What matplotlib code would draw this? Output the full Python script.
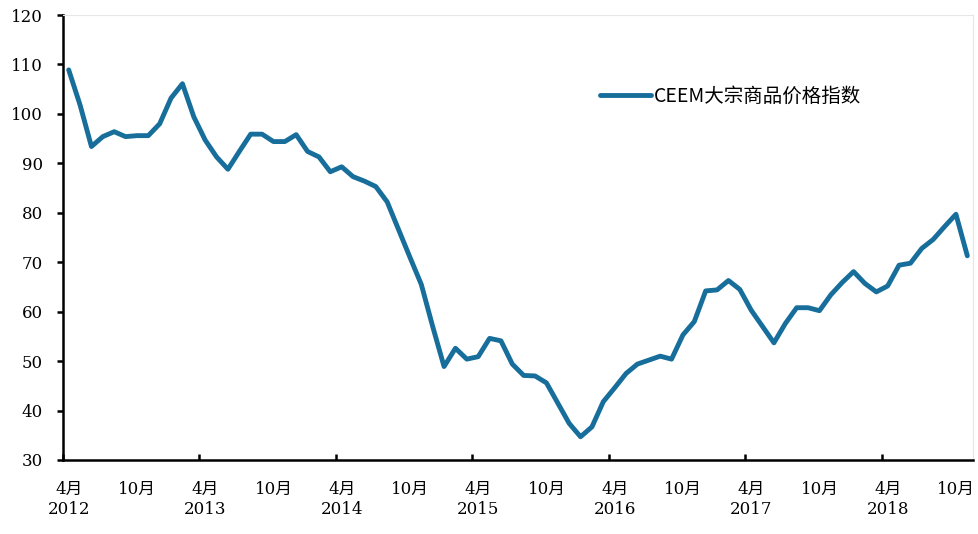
import matplotlib
matplotlib.use("Agg")
import matplotlib.pyplot as plt
import numpy as np

plt.rcParams['font.family'] = ['DejaVu Serif', 'Noto Sans CJK SC']

series_name = "CEEM大宗商品价格指数"
values = [
    108.9, 101.8, 93.4, 95.4, 96.4, 95.4, 95.6, 95.6, 98.0,          # 2012 Apr-Dec
    103.2, 106.1, 99.4, 94.7, 91.3, 88.8, 92.4, 95.9, 95.9, 94.4, 94.4, 95.8,  # 2013
    92.4, 91.3, 88.3, 89.3, 87.3, 86.4, 85.3, 82.2, 76.6, 71.0, 65.5, 57.0,    # 2014
    48.9, 52.6, 50.4, 50.9, 54.6, 54.1, 49.4, 47.1, 47.0, 45.6, 41.5, 37.4,    # 2015
    34.7, 36.7, 41.8, 44.6, 47.5, 49.4, 50.2, 51.0, 50.4, 55.3, 58.0, 64.2,    # 2016
    64.4, 66.3, 64.5, 60.3, 57.0, 53.7, 57.6, 60.8, 60.8, 60.2, 63.4, 65.9,    # 2017
    68.1, 65.7, 64.0, 65.2, 69.4, 69.8, 72.8, 74.6, 77.2, 79.7, 71.3,          # 2018 Jan-Nov
]
tick_labels = ["4月\n2012", "10月", "4月\n2013", "10月", "4月\n2014", "10月",
               "4月\n2015", "10月", "4月\n2016", "10月", "4月\n2017", "10月",
               "4月\n2018", "10月"]
y_ticks = [30, 40, 50, 60, 70, 80, 90, 100, 110, 120]

line_color = '#176E9B'

fig = plt.figure(figsize=(9.79, 5.34), dpi=100)
ax = fig.add_axes([63/979, 1-460/534, (973-63)/979, (460-15)/534])

x = np.arange(len(values))
ax.plot(x, values, color=line_color, lw=3.5, solid_joinstyle='round',
        solid_capstyle='round', label=series_name)

ax.set_xlim(-0.5, len(values) - 0.5)
ax.set_ylim(30, 120)
ax.set_yticks(y_ticks)
ax.set_yticklabels([str(v) for v in y_ticks], fontsize=12)

# major ticks (year boundaries) without labels, pointing inward
ax.set_xticks(np.arange(-0.5, len(values), 12))
ax.set_xticklabels([])
ax.tick_params(axis='x', which='major', direction='in', length=4.5, width=1.8)
# minor ticks carry the labels
ax.set_xticks(np.arange(0, 6 * len(tick_labels), 6), minor=True)
ax.set_xticklabels(tick_labels, minor=True, fontsize=12, linespacing=1.25)
ax.tick_params(axis='x', which='minor', length=0, pad=15)
ax.tick_params(axis='y', direction='out', length=4.5, width=1.8, pad=10)

for s in ['left', 'bottom']:
    ax.spines[s].set_linewidth(1.8)
    ax.spines[s].set_color('black')
for s in ['top', 'right']:
    ax.spines[s].set_linewidth(0.8)
    ax.spines[s].set_color('#E6E6E6')

leg = ax.legend(loc='center left', bbox_to_anchor=(600/979, 1-96/534),
                bbox_transform=fig.transFigure, frameon=False,
                prop={'family': ['Noto Sans CJK SC'], 'size': 14, 'weight': 'medium'},
                handlelength=2.6, handletextpad=0.15, borderpad=0, borderaxespad=0)

fig.savefig('out.png', dpi=100)
